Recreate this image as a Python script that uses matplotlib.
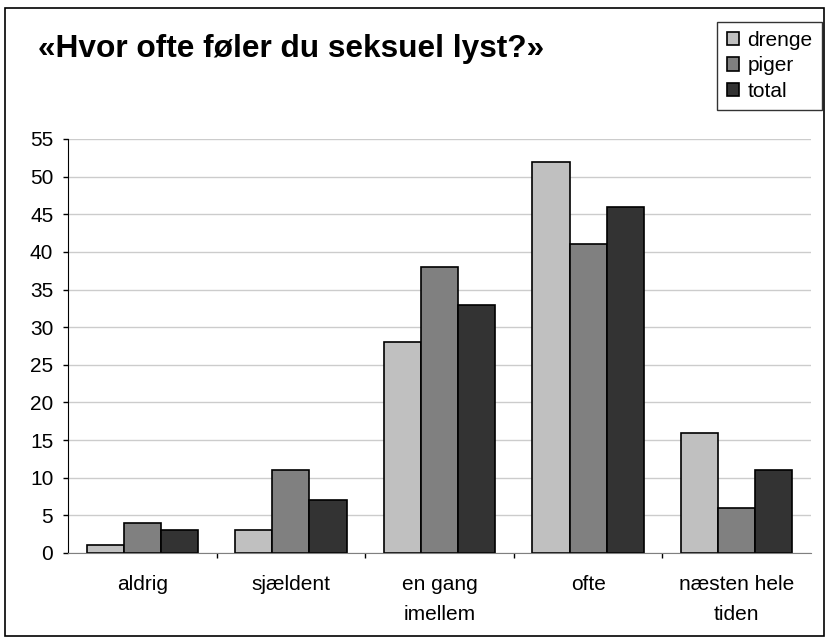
import numpy as np
import matplotlib.pyplot as plt
from matplotlib.patches import Rectangle

plt.rcParams['font.family'] = ['Liberation Sans', 'DejaVu Sans']

categories = ['aldrig', 'sjældent', 'en gang\nimellem', 'ofte', 'næsten hele\ntiden']
drenge = [1, 3, 28, 52, 16]
piger = [4, 11, 38, 41, 6]
total = [3, 7, 33, 46, 11]
series = [('drenge', drenge, '#c0c0c0'), ('piger', piger, '#808080'), ('total', total, '#333333')]

fig = plt.figure(figsize=(8.27, 6.39), dpi=100)
fig.patches.append(Rectangle((0.006, 0.004), 0.990, 0.984, transform=fig.transFigure,
                             fill=False, edgecolor='black', linewidth=1.2))
ax = fig.add_axes([0.0822, 0.1346, 0.8985, 0.6479])

x = np.arange(len(categories))
w = 0.25
for i, (name, vals, col) in enumerate(series):
    ax.bar(x + (i - 1) * w, vals, w, color=col, edgecolor='black', linewidth=1.2, label=name, zorder=3)

ax.set_xlim(-0.5, len(categories) - 0.5)
ax.set_ylim(0, 55)
ax.set_yticks(range(0, 56, 5))
ax.tick_params(axis='y', labelsize=15, direction='out', length=3.6, width=1, pad=7)
ax.set_xticks(x)
ax.set_xticklabels(categories, fontsize=15, linespacing=1.7)
ax.tick_params(axis='x', length=0, pad=16)
ax.set_xticks(np.arange(0.5, len(categories) - 1, 1), minor=True)
ax.tick_params(axis='x', which='minor', direction='out', length=3.6, width=1)
ax.grid(axis='y', color='#cccccc', linewidth=1, zorder=0)
ax.spines['top'].set_visible(False)
ax.spines['right'].set_visible(False)
ax.spines['bottom'].set_color('#808080')
ax.spines['bottom'].set_zorder(4)

fig.text(0.046, 0.923, '«Hvor ofte føler du seksuel lyst?»', fontsize=22.8, fontweight='bold',
         va='center', ha='left')

leg = fig.legend(loc='upper right', bbox_to_anchor=(0.994, 0.966), fontsize=15, frameon=True,
                 fancybox=False, edgecolor='black', handlelength=0.6, handleheight=0.6,
                 handletextpad=0.4, labelspacing=0.3, borderpad=0.45, borderaxespad=0)
leg.get_frame().set_linewidth(1.0)

plt.savefig('out.png', dpi=100)
